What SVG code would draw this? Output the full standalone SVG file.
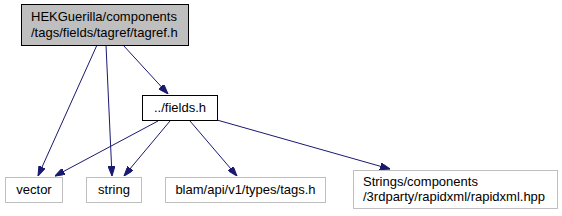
<svg xmlns="http://www.w3.org/2000/svg" width="562" height="216" viewBox="0 0 562 216">
<style>
text{font-family:"Liberation Sans",Arial,sans-serif;font-size:13px;fill:#000}
.root rect{fill:#bfbfbf;stroke:#000;stroke-width:1}
.main rect{fill:#fff;stroke:#000;stroke-width:1}
.ext rect{fill:#fff;stroke:#bfbfbf;stroke-width:1}
.edge{fill:none;stroke:#191970;stroke-width:1}
</style>
<defs>
<marker id="arr" viewBox="0 0 10 7" refX="10" refY="3.5" markerUnits="userSpaceOnUse" markerWidth="10" markerHeight="7" orient="auto">
<path d="M0,0 L10,3.5 L0,7 z" fill="#191970" stroke="#191970"/>
</marker>
</defs>
<rect width="562" height="216" fill="#fff"/>
<g id="connectors">
<path class="edge" d="M97,45 L38,176" marker-end="url(#arr)"/>
<path class="edge" d="M106,45 L112,176" marker-end="url(#arr)"/>
<path class="edge" d="M123,45 L168,94" marker-end="url(#arr)"/>
<path class="edge" d="M158,121 L55,176" marker-end="url(#arr)"/>
<path class="edge" d="M170,121 L124,176" marker-end="url(#arr)"/>
<path class="edge" d="M190,121 L237,176" marker-end="url(#arr)"/>
<path class="edge" d="M217,120 L390,169" marker-end="url(#arr)"/>
</g>
<g id="node-root" class="root">
<rect x="21.5" y="4.5" width="167" height="41"/>
<text x="31" y="21">HEKGuerilla/components</text>
<text x="31" y="37">/tags/fields/tagref/tagref.h</text>
</g>
<g id="node-fields" class="main">
<rect x="142.5" y="95.5" width="75" height="25"/>
<text x="180" y="112" text-anchor="middle">../fields.h</text>
</g>
<g id="node-vector" class="ext">
<rect x="5.5" y="177.5" width="57" height="25"/>
<text x="34" y="194" text-anchor="middle">vector</text>
</g>
<g id="node-string" class="ext">
<rect x="86.5" y="177.5" width="55" height="25"/>
<text x="114" y="194" text-anchor="middle">string</text>
</g>
<g id="node-blam" class="ext">
<rect x="165.5" y="177.5" width="160" height="25"/>
<text x="245.5" y="194" text-anchor="middle">blam/api/v1/types/tags.h</text>
</g>
<g id="node-strings" class="ext">
<rect x="353.5" y="170.5" width="204" height="38"/>
<text x="363" y="186">Strings/components</text>
<text x="363" y="201">/3rdparty/rapidxml/rapidxml.hpp</text>
</g>
</svg>
